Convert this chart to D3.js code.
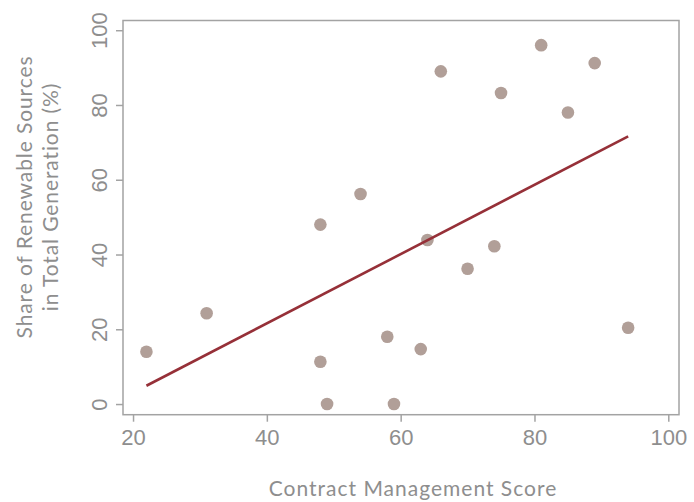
<!DOCTYPE html>
<html>
<head>
<meta charset="utf-8">
<script src="https://cdn.jsdelivr.net/npm/d3@7"></script>
<style>
  body { margin: 0; background: #fff; }
  svg { display: block; font-family: Lato, "Open Sans", sans-serif; }
</style>
</head>
<body>
<div id="chart"></div>
<script>
// datos
const scores = [22, 31, 48, 54, 48, 58, 49, 59, 63, 66, 81, 89, 75, 85, 64, 74, 70, 94];
const shares = [14, 24.3, 48, 56.2, 11.3, 18, 0, 0, 14.7, 89, 96, 91.2, 83.2, 78, 43.9, 42.2, 36.2, 20.4];
const trendX = [22, 94];
const trendY = [4.9, 71.6];
const xTicks = [20, 40, 60, 80, 100];
const yTicks = [0, 20, 40, 60, 80, 100];

const width = 694, height = 502;
const margin = { top: 20.5, right: 15, bottom: 87.3, left: 123 };

const textColor = '#8e8e8e';
const axisColor = '#a3a3a3';

const svg = d3.select('#chart')
  .append('svg')
  .attr('width', width)
  .attr('height', height);

const x = d3.scaleLinear().domain([18.5, 101.6]).range([margin.left, width - margin.right]);
const y = d3.scaleLinear().domain([-2.85, 102.6]).range([height - margin.bottom, margin.top]);

// caja
svg.append('rect')
  .attr('x', margin.left)
  .attr('y', margin.top)
  .attr('width', width - margin.right - margin.left)
  .attr('height', height - margin.bottom - margin.top)
  .attr('fill', 'none')
  .attr('stroke', axisColor)
  .attr('stroke-width', 1.5);

// EJE X
const xAxis = svg.append('g')
  .attr('transform', `translate(0,${height - margin.bottom})`)
  .call(d3.axisBottom(x).tickValues(xTicks).tickSize(7).tickSizeOuter(0).tickPadding(8));
xAxis.select('.domain').remove();
xAxis.selectAll('line').attr('stroke', axisColor).attr('stroke-width', 1.5);
xAxis.selectAll('text')
  .attr('fill', textColor)
  .style('font-size', '22px');

// EJE Y
const yAxis = svg.append('g')
  .attr('transform', `translate(${margin.left},0)`)
  .call(d3.axisLeft(y).tickValues(yTicks).tickSize(7).tickSizeOuter(0));
yAxis.select('.domain').remove();
yAxis.selectAll('line').attr('stroke', axisColor).attr('stroke-width', 1.5);
yAxis.selectAll('text')
  .attr('fill', textColor)
  .style('font-size', '22px')
  .attr('x', null)
  .attr('dy', null)
  .attr('transform', 'translate(-16,0) rotate(-90)')
  .style('text-anchor', 'middle');

// titulos
svg.append('text')
  .attr('x', 413)
  .attr('y', 496)
  .attr('fill', textColor)
  .style('font-size', '21px')
  .style('letter-spacing', '1px')
  .style('text-anchor', 'middle')
  .text('Contract Management Score');

const yTitle = svg.append('text')
  .attr('transform', 'translate(31.5,197) rotate(-90)')
  .attr('fill', textColor)
  .style('font-size', '21px')
  .style('letter-spacing', '0.9px')
  .style('text-anchor', 'middle');
yTitle.append('tspan').attr('x', 0).attr('y', 0).text('Share of Renewable Sources');
yTitle.append('tspan').attr('x', 0).attr('y', 26.5).text('in Total Generation (%)');

// PUNTOS
svg.selectAll('circle.pt')
  .data(scores)
  .enter()
  .append('circle')
  .attr('class', 'pt')
  .attr('cx', (d) => x(d))
  .attr('cy', (d, i) => y(shares[i]))
  .attr('r', 6.3)
  .attr('fill', '#b19f98');

// LINEA DE TENDENCIA
svg.append('path')
  .datum(trendX.map((d, i) => [d, trendY[i]]))
  .attr('fill', 'none')
  .attr('stroke', '#963038')
  .attr('stroke-width', 2.6)
  .attr('d', d3.line().x((d) => x(d[0])).y((d) => y(d[1])));
</script>
</body>
</html>
